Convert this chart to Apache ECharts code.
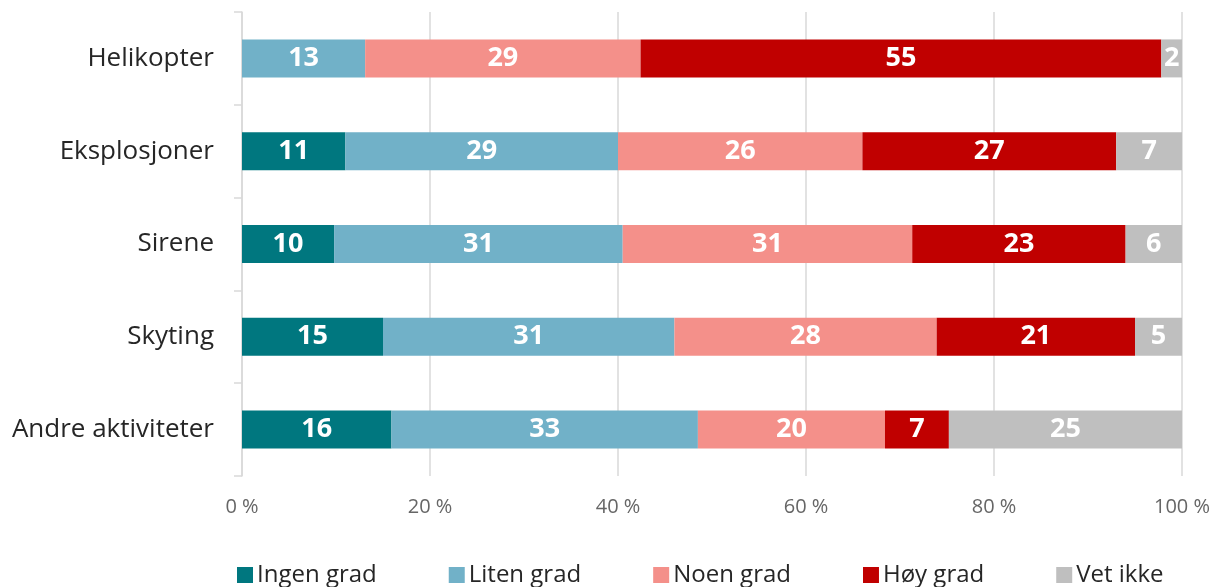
<!DOCTYPE html>
<html>
<head>
<meta charset="utf-8">
<script src="https://cdn.jsdelivr.net/npm/echarts@6/dist/echarts.min.js"></script>
<style>
  html, body { margin: 0; padding: 0; background: #fff; }
  #chart { width: 1214px; height: 587px; }
</style>
</head>
<body>
<div id="chart"></div>
<script>
var myChart = echarts.init(document.getElementById('chart'));

// kategorier ovenfra og ned, verdier i prosent
var categories = ['Helikopter', 'Eksplosjoner', 'Sirene', 'Skyting', 'Andre aktiviteter'];
var seriesNames = ['Ingen grad', 'Liten grad', 'Noen grad', 'Høy grad', 'Vet ikke'];
var ingenGrad = [0, 11, 9.8, 15, 15.9];
var litenGrad = [13.1, 29, 30.7, 31, 32.6];
var noenGrad = [29.3, 26, 30.8, 27.9, 19.9];
var hoyGrad = [55.4, 27, 22.7, 21.1, 6.8];
var vetIkke = [2.2, 7, 6, 5, 24.8];
var xTicks = [0, 20, 40, 60, 80, 100];

var colors = ['#00777f', '#71b1c8', '#f4908a', '#c00000', '#bfbfbf'];
var allValues = [ingenGrad, litenGrad, noenGrad, hoyGrad, vetIkke];

var font = '"Open Sans", Lato, sans-serif';

var option = {
  animation: false,
  color: colors,
  textStyle: { fontFamily: font },
  grid: { left: 242, right: 32, top: 12, bottom: 111, containLabel: false },
  legend: {
    bottom: -5,
    left: 232,
    itemWidth: 16,
    itemHeight: 16,
    itemGap: 72,
    icon: 'rect',
    textStyle: { fontSize: 24, color: '#262626', fontFamily: font, padding: [0, 0, 0, -1] },
    data: seriesNames
  },
  xAxis: {
    type: 'value',
    min: xTicks[0],
    max: xTicks[xTicks.length - 1],
    interval: 20,
    axisLine: { show: false },
    axisTick: { show: false },
    splitLine: { lineStyle: { color: '#d9d9d9', width: 1.5 } },
    axisLabel: {
      formatter: '{value} %',
      color: '#666666',
      fontSize: 20,
      margin: 21
    }
  },
  yAxis: {
    type: 'category',
    inverse: true,
    data: categories,
    axisLine: { lineStyle: { color: '#d9d9d9', width: 1.5 } },
    axisTick: { show: true, length: 8, lineStyle: { color: '#d9d9d9', width: 1.5 } },
    axisLabel: { color: '#262626', fontSize: 26, margin: 28 }
  },
  series: seriesNames.map(function (name, i) {
    return {
      name: name,
      type: 'bar',
      stack: 'total',
      barWidth: 38,
      data: allValues[i],
      label: {
        show: true,
        position: 'inside',
        color: '#fff',
        fontWeight: 'bold',
        fontSize: 27,
        fontFamily: font,
        formatter: function (p) {
          return p.value > 0 ? Math.round(p.value) : '';
        }
      }
    };
  })
};

myChart.setOption(option);
</script>
</body>
</html>
